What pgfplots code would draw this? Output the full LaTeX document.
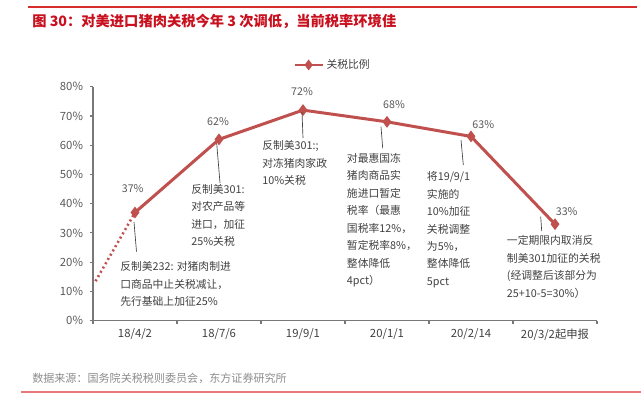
\documentclass[border=0pt]{standalone}
\usepackage{pgfplots}
\pgfplotsset{compat=1.18}
\usepackage{fontspec}
\setmainfont{Noto Sans CJK SC}
\definecolor{linered}{RGB}{192,80,77}
\definecolor{titlered}{RGB}{200,16,30}
\definecolor{topred}{RGB}{215,45,45}
\definecolor{botred}{RGB}{232,120,120}
\definecolor{anntext}{RGB}{64,64,64}
\definecolor{pcttext}{RGB}{89,89,89}
\definecolor{srcgray}{RGB}{140,140,140}
\definecolor{axisgray}{RGB}{120,120,120}
\begin{document}
\begin{tikzpicture}[x=0.75pt,y=-0.75pt,
  ann/.style={anchor=north west, inner sep=0pt, align=left, text=anntext, font=\fontsize{8.1pt}{13.1pt}\selectfont},
  pct/.style={anchor=center, inner sep=0pt, text=pcttext, font=\fontsize{8pt}{10pt}\selectfont},
  lead/.style={draw=anntext, line width=0.5pt}]
\coordinate (ax) at (93,320.7);
\begin{axis}[
  at={(ax)}, anchor=south west,
  scale only axis, width=378pt, height=175.5pt,
  xmin=-0.5, xmax=5.5, ymin=0, ymax=80,
  axis lines=left,
  axis line style={draw=axisgray, line width=0.8pt, -},
  tick align=outside,
  major tick length=2.5pt, minor tick length=2.5pt,
  tick style={draw=axisgray, line width=0.8pt},
  ytick={0,10,...,80},
  yticklabel={\pgfmathprintnumber{\tick}\%},
  yticklabel style={text=pcttext, font=\fontsize{8.5pt}{10pt}\selectfont, xshift=-1.5pt},
  xtick={0,...,5},
  xticklabels={18/4/2,18/7/6,19/9/1,20/1/1,20/2/14,20/3/2起申报},
  xticklabel style={text=anntext, font=\fontsize{8.5pt}{10pt}\selectfont},
  major x tick style={draw=none},
  minor xtick={-0.5,0.5,...,5.5},
  /pgf/number format/assume math mode=true,
  legend style={at={(0.476,1.093)}, anchor=center, draw=none, fill=none,
    font=\fontsize{8.1pt}{10pt}\selectfont, text=anntext, inner sep=1pt},
  legend image code/.code={\draw[mark repeat=2,mark phase=2,#1,line width=1.8pt] plot coordinates {(0cm,0cm) (0.37cm,0cm) (0.74cm,0cm)};},
  clip=false,
]
\addplot[linered, line width=1.9pt, dash pattern=on 1.5pt off 2.2pt, forget plot] coordinates {(-0.47,13.5) (0,37)};
\addplot[linered, line width=2.25pt, mark=diamond*, mark size=2.6pt, mark options={solid}] coordinates {(0,37) (1,62) (2,72) (3,68) (4,63) (5,33)};
\addlegendentry{关税比例}
\end{axis}
% title and rules
\draw[topred, line width=1pt] (28,7) -- (637,7);
\node[anchor=west, inner sep=0pt, text=titlered, font=\fontsize{10.7pt}{12pt}\selectfont\bfseries] at (32,21) {图 30：对美进口猪肉关税今年 3 次调低，当前税率环境佳};
\node[anchor=west, inner sep=0pt, text=srcgray, font=\fontsize{8.3pt}{10pt}\selectfont] at (32,378) {数据来源：国务院关税税则委员会，东方证券研究所};
\draw[botred, line width=1.5pt] (21,392) -- (641,392);
% value labels
\node[pct] at (132.7,189) {37\%};
\node[pct] at (218,121.7) {62\%};
\node[pct] at (302,91.7) {72\%};
\node[pct] at (394,105) {68\%};
\node[pct] at (483.3,125) {63\%};
\node[pct] at (566.7,211.7) {33\%};
% leaders
\draw[lead] (134,222) -- (136.5,251.7);
\draw[lead] (216.7,143.3) -- (220,183);
\draw[lead] (302,112) -- (303,138);
\draw[lead] (381,126.7) -- (382.7,148.3);
\draw[lead] (461,140) -- (463.3,165);
\draw[lead] (540.7,216.7) -- (541.7,231);
% annotations
\node[ann] at (120,261.3) {反制美232: 对猪肉制进\\口商品中止关税减让，\\先行基础上加征25\%};
\node[ann] at (191,184) {反制美301:\\对农产品等\\进口，加征\\25\%关税};
\node[ann] at (262,140.6) {反制美301:;\\对冻猪肉家政\\10\%关税};
\node[ann] at (346.7,152.9) {对最惠国冻\\猪肉商品实\\施进口暂定\\税率（最惠\\国税率12\%，\\暂定税率8\%，\\整体降低\\4pct）};
\node[ann] at (426.7,171.3) {将19/9/1\\实施的\\10\%加征\\关税调整\\为5\%，\\整体降低\\5pct};
\node[ann] at (506.7,235.3) {一定期限内取消反\\制美301加征的关税\\(经调整后该部分为\\25+10-5=30\%）};
\pgfresetboundingbox
\path (0,0) rectangle (641,393);
\end{tikzpicture}
\end{document}
